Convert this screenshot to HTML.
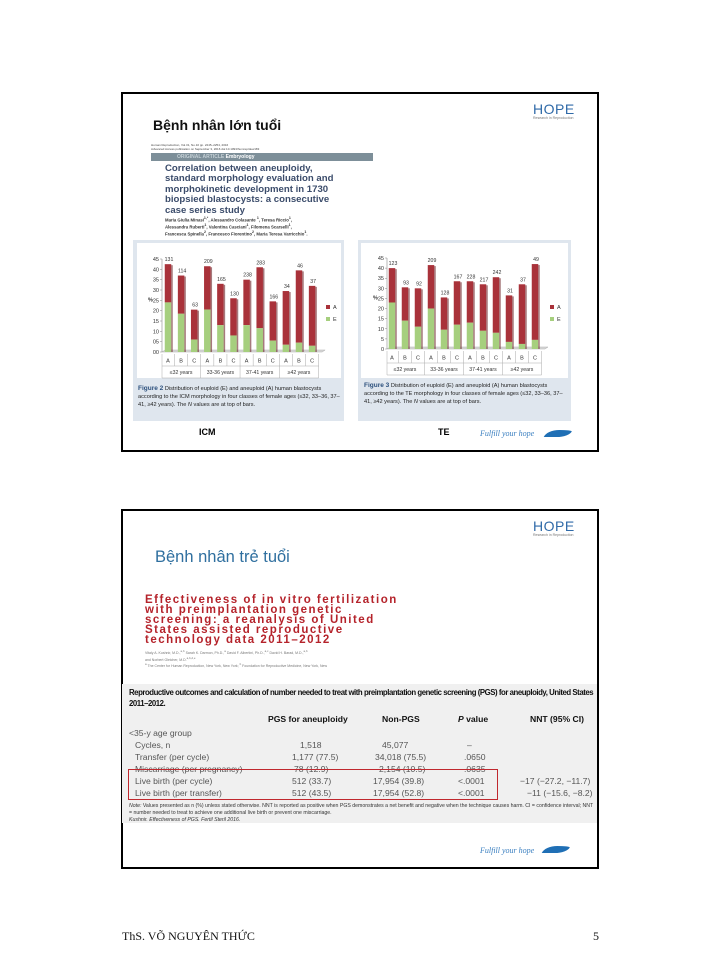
<!DOCTYPE html>
<html><head><meta charset="utf-8">
<style>
body{margin:0;width:720px;height:960px;background:#fff;position:relative;font-family:"Liberation Sans",sans-serif;overflow:hidden}
.abs{position:absolute}
.slide{position:absolute;border:2px solid #000;box-sizing:border-box;background:#fff}
.hope{position:absolute;color:#2f6aa8;font-size:14px;letter-spacing:0.5px;font-family:"Liberation Sans",sans-serif;line-height:13px}
.hope small{display:block;font-size:3.5px;color:#777;letter-spacing:0;line-height:4px}
.fyh{position:absolute;font-family:"Liberation Serif",serif;font-style:italic;color:#3a7fc0;font-size:8px}
.wave{position:absolute;width:26px;height:7px;background:#1f6fb5;border-radius:50% 50% 50% 50%/100% 20% 80% 0;transform:skewX(-20deg)}
.c{position:absolute;font-size:8.6px;color:#555;white-space:nowrap;line-height:12px}
.h{position:absolute;font-size:8.6px;color:#111;font-weight:bold;white-space:nowrap}
</style></head><body>

<div class="slide" style="left:121px;top:92px;width:478px;height:360px"></div>
<div class="abs" style="left:153px;top:117px;font-size:14px;font-weight:bold;color:#111;font-family:'Liberation Sans','Noto Sans CJK SC',sans-serif">Bệnh nhân lớn tuổi</div>
<div class="hope" style="left:533px;top:103px">HOPE<small>Research in Reproduction</small></div>
<div class="abs" style="left:151px;top:143px;font-size:3px;color:#444;line-height:4px">Human Reproduction, Vol.31, No.10 pp. 2245–2254, 2016<br>Advanced Access publication on September 3, 2016 doi:10.1093/humrep/dew183</div>
<div class="abs" style="left:151px;top:153px;width:222px;height:8px;background:#7d8f99"><span style="position:absolute;left:26px;top:1px;font-size:5px;color:#c5d0d6;font-weight:bold">ORIGINAL ARTICLE <span style="color:#fff">Embryology</span></span></div>
<div class="abs" style="left:165px;top:164px;font-size:9.6px;line-height:10.4px;font-weight:bold;color:#3b4c6b;font-family:'Liberation Sans',sans-serif">Correlation between aneuploidy,<br>standard morphology evaluation and<br>morphokinetic development in 1730<br>biopsied blastocysts: a consecutive<br>case series study</div>
<div class="abs" style="left:165px;top:216px;font-size:4.3px;line-height:5.5px;font-weight:bold;color:#333">Maria Giulia Minasi<sup>1,*</sup>, Alessandro Colasante <sup>1</sup>, Teresa Riccio<sup>1</sup>,<br>Alessandra Ruberti<sup>1</sup>, Valentina Casciani<sup>1</sup>, Filomena Scarselli<sup>1</sup>,<br>Francesca Spinella<sup>2</sup>, Francesco Fiorentino<sup>2</sup>, Maria Teresa Varricchio<sup>1</sup>.</div>

<div class="abs" style="left:133px;top:240px;width:211px;height:181px;background:#dfe6ee"></div>
<div class="abs" style="left:358px;top:240px;width:213px;height:181px;background:#dfe6ee"></div>
<svg id="charts" class="abs" style="left:0;top:0" width="720" height="460"></svg>
<div class="abs" style="left:138px;top:385px;width:205px;font-size:5.6px;line-height:8px;color:#222"><b style="color:#2b4f7c;font-size:6.5px">Figure 2</b> Distribution of euploid (E) and aneuploid (A) human blastocysts according to the ICM morphology in four classes of female ages (≤32, 33–36, 37–41, ≥42 years). The <i>N</i> values are at top of bars.</div>
<div class="abs" style="left:364px;top:382px;width:205px;font-size:5.6px;line-height:8px;color:#222"><b style="color:#2b4f7c;font-size:6.5px">Figure 3</b> Distribution of euploid (E) and aneuploid (A) human blastocysts according to the TE morphology in four classes of female ages (≤32, 33–36, 37–41, ≥42 years). The <i>N</i> values are at top of bars.</div>
<div class="abs" style="left:199px;top:427px;font-size:9px;font-weight:bold">ICM</div>
<div class="abs" style="left:438px;top:427px;font-size:9px;font-weight:bold">TE</div>
<div class="fyh" style="left:480px;top:429px">Fulfill your hope</div>
<div class="wave" style="left:545px;top:430px"></div>

<div class="slide" style="left:121px;top:509px;width:478px;height:360px"></div>
<div class="hope" style="left:533px;top:520px">HOPE<small>Research in Reproduction</small></div>
<div class="abs" style="left:155px;top:548px;font-size:16.5px;color:#2f6f9f;font-family:'Liberation Sans',sans-serif">Bệnh nhân trẻ tuổi</div>
<div class="abs" style="left:145px;top:595px;font-size:11.5px;line-height:10px;font-weight:bold;color:#b5232b;letter-spacing:1.5px">Effectiveness of in vitro fertilization<br>with preimplantation genetic<br>screening: a reanalysis of United<br>States assisted reproductive<br>technology data 2011–2012</div>
<div class="abs" style="left:145px;top:649px;font-size:3.5px;line-height:4.5px;color:#777">Vitaly A. Kushnir, M.D.,<sup>a,b</sup> Sarah K. Darmon, Ph.D.,<sup>a</sup> David F. Albertini, Ph.D.,<sup>a,c</sup> David H. Barad, M.D.,<sup>a,b</sup><br>and Norbert Gleicher, M.D.<sup>a,b,d,e</sup><br><sup>a</sup> The Center for Human Reproduction, New York, New York; <sup>b</sup> Foundation for Reproductive Medicine, New York, New</div>

<div class="abs" style="left:122px;top:684px;width:475px;height:139px;background:#f0f0f0"></div>
<div class="abs" style="left:129px;top:687px;width:468px;font-size:7.8px;line-height:11px;font-weight:bold;color:#111;letter-spacing:-0.45px">Reproductive outcomes and calculation of number needed to treat with preimplantation genetic screening (PGS) for aneuploidy, United States 2011–2012.</div>
<div>
<div class="h" style="left:268px;top:714px">PGS for aneuploidy</div>
<div class="h" style="left:382px;top:714px">Non-PGS</div>
<div class="h" style="left:458px;top:714px"><i>P</i> value</div>
<div class="h" style="left:530px;top:714px">NNT (95% CI)</div>
<div class="c" style="left:129px;top:727px">&lt;35-y age group</div>
<div class="c" style="left:135px;top:739px">Cycles, n</div>
<div class="c" style="left:135px;top:751px">Transfer (per cycle)</div>
<div class="c" style="left:135px;top:763px">Miscarriage (per pregnancy)</div>
<div class="c" style="left:135px;top:775px">Live birth (per cycle)</div>
<div class="c" style="left:135px;top:787px">Live birth (per transfer)</div>
<div class="c" style="left:300px;top:739px">1,518</div>
<div class="c" style="left:292px;top:751px">1,177 (77.5)</div>
<div class="c" style="left:294px;top:763px">78 (12.9)</div>
<div class="c" style="left:292px;top:775px">512 (33.7)</div>
<div class="c" style="left:292px;top:787px">512 (43.5)</div>
<div class="c" style="left:382px;top:739px">45,077</div>
<div class="c" style="left:375px;top:751px">34,018 (75.5)</div>
<div class="c" style="left:379px;top:763px">2,154 (10.5)</div>
<div class="c" style="left:373px;top:775px">17,954 (39.8)</div>
<div class="c" style="left:373px;top:787px">17,954 (52.8)</div>
<div class="c" style="left:467px;top:739px">–</div>
<div class="c" style="left:464px;top:751px">.0650</div>
<div class="c" style="left:464px;top:763px">.0635</div>
<div class="c" style="left:458px;top:775px">&lt;.0001</div>
<div class="c" style="left:458px;top:787px">&lt;.0001</div>
<div class="c" style="left:520px;top:775px">−17 (−27.2, −11.7)</div>
<div class="c" style="left:527px;top:787px">−11 (−15.6, −8.2)</div>
</div>
<div class="abs" style="left:128px;top:769px;width:370px;height:31px;border:1px solid #c0282e;box-sizing:border-box"></div>
<div class="abs" style="left:129px;top:803px;width:468px;font-size:5.2px;line-height:7px;color:#333"><i>Note:</i> Values presented as n (%) unless stated otherwise. NNT is reported as positive when PGS demonstrates a net benefit and negative when the technique causes harm. CI = confidence interval; NNT = number needed to treat to achieve one additional live birth or prevent one miscarriage.</div>
<div class="abs" style="left:129px;top:817px;font-size:5.2px;color:#333;font-style:italic">Kushnir. Effectiveness of PGS. Fertil Steril 2016.</div>
<div class="fyh" style="left:480px;top:846px">Fulfill your hope</div>
<div class="wave" style="left:543px;top:846px"></div>

<div class="abs" style="left:122px;top:929px;font-size:12px;font-family:'Liberation Serif',serif;color:#111">ThS. VÕ NGUYÊN THỨC</div>
<div class="abs" style="left:593px;top:929px;font-size:12px;font-family:'Liberation Serif',serif;color:#111">5</div>

<script>
const bars = ["A","B","C","A","B","C","A","B","C","A","B","C"];
const groups = ["≤32 years","33-36 years","37-41 years","≥42 years"];
const icmTotal = [42.5,37,20.5,41.5,33,26,35,41,24.5,29.5,39.5,32];
const icmEuploid = [24,18.5,6,20.5,13,8,13,11.5,5.5,3.5,4.5,3];
const icmN = [131,114,63,209,165,130,238,283,166,34,46,37];
const teTotal = [40,30.5,30,41.5,25.5,33.5,33.5,32,35.5,26.5,32,42];
const teEuploid = [23,14,11,20,9.5,12,13,9,8,3.5,2.5,4.5];
const teN = [123,93,92,209,128,167,228,217,242,31,37,49];
const icmTicks = ["00","05","10","15","20","25","30","35","40","45"];
const teTicks = ["0","5","10","15","20","25","30","35","40","45"];

const NS="http://www.w3.org/2000/svg";
const svg=document.getElementById('charts');
function mk(tag,attrs,parent,txt){const e=document.createElementNS(NS,tag);for(const k in attrs)e.setAttribute(k,attrs[k]);if(txt!==undefined)e.textContent=txt;(parent||svg).appendChild(e);return e;}
function chart(cfg){
  const g=mk('g',{});
  
  
  mk('rect',{x:cfg.bx,y:243,width:cfg.bw,height:135,fill:'#fff'},g);
  const y=v=>cfg.y0-(v/45)*(cfg.y0-cfg.y45);
  const step=cfg.step, x=i=>cfg.x0+i*step;
  cfg.ticks.forEach((t,i)=>{const yy=y(i*5);
    const tl=mk('text',{x:cfg.ax-3,y:yy+2,'font-size':5.5,'text-anchor':'end',fill:'#333'},g,t);
    
    
    mk('line',{x1:cfg.ax-2,x2:cfg.ax,y1:yy,y2:yy,stroke:'#888','stroke-width':0.5},g);});
  mk('line',{x1:cfg.ax,x2:cfg.ax,y1:y(45),y2:y(0),stroke:'#888','stroke-width':0.6},g);
  mk('polygon',{points:`${cfg.ax},${y(0)} ${x(11)+10},${y(0)} ${x(11)+13},${y(0)-2} ${cfg.ax+3},${y(0)-2}`,fill:'#dcdcdc',stroke:'#999','stroke-width':0.4},g);
  mk('text',{x:cfg.ax-14,y:y(22.5)-4,'font-size':5.5,'font-weight':'bold',fill:'#333'},g,'%');
  const ty=y(0)+2, te=x(11)+step/2;
  mk('line',{x1:cfg.ax,x2:te,y1:ty+12,y2:ty+12,stroke:'#aaa','stroke-width':0.5},g);
  mk('line',{x1:cfg.ax,x2:te,y1:ty+24,y2:ty+24,stroke:'#aaa','stroke-width':0.5},g);
  bars.forEach((b,i)=>{
    const cx=x(i), w=6.5;
    const rt=mk('rect',{x:cx-w/2,y:y(cfg.total[i]),width:w,height:y(cfg.eu[i])-y(cfg.total[i]),fill:'#a9323a'},g);
    
    
    const re=mk('rect',{x:cx-w/2,y:y(cfg.eu[i]),width:w,height:y(0)-y(cfg.eu[i]),fill:'#a6cf7e'},g);
    
    
    mk('rect',{x:cx+w/2,y:y(cfg.total[i])+1,width:1.5,height:y(0)-y(cfg.total[i])-1,fill:'#6b1f24',opacity:0.6},g);
    const nl=mk('text',{x:cx+1,y:y(cfg.total[i])-3,'font-size':5.2,'text-anchor':'middle',fill:'#333'},g,cfg.n[i]);
    
    
    const xl=mk('text',{x:cx,y:ty+8.5,'font-size':5.5,'text-anchor':'middle',fill:'#333'},g,b);
    
    
    mk('line',{x1:cx+step/2,x2:cx+step/2,y1:ty,y2:ty+(i%3==2?24:12),stroke:'#aaa','stroke-width':0.5},g);
  });
  mk('line',{x1:cfg.ax,x2:cfg.ax,y1:ty,y2:ty+24,stroke:'#aaa','stroke-width':0.5},g);
  groups.forEach((gr,k)=>{
    const gl=mk('text',{x:x(k*3+1),y:ty+20,'font-size':5.2,'text-anchor':'middle',fill:'#333'},g,gr);
    
    
  });
  const lx=cfg.lx;
  mk('rect',{x:lx,y:305,width:4,height:4,fill:'#a9323a'},g);
  mk('text',{x:lx+7,y:309,'font-size':5.5,fill:'#333'},g,'A');
  mk('rect',{x:lx,y:317,width:4,height:4,fill:'#a6cf7e'},g);
  mk('text',{x:lx+7,y:321,'font-size':5.5,fill:'#333'},g,'E');
}
chart({name:'figure2-chart',bx:137,bw:204,ax:162,x0:168,step:13.1,y0:352,y45:259,ticks:icmTicks,total:icmTotal,eu:icmEuploid,n:icmN,lx:326});
chart({name:'figure3-chart',bx:361,bw:207,ax:387,x0:392,step:13,y0:349,y45:258,ticks:teTicks,total:teTotal,eu:teEuploid,n:teN,lx:550});
</script>
</body></html>
